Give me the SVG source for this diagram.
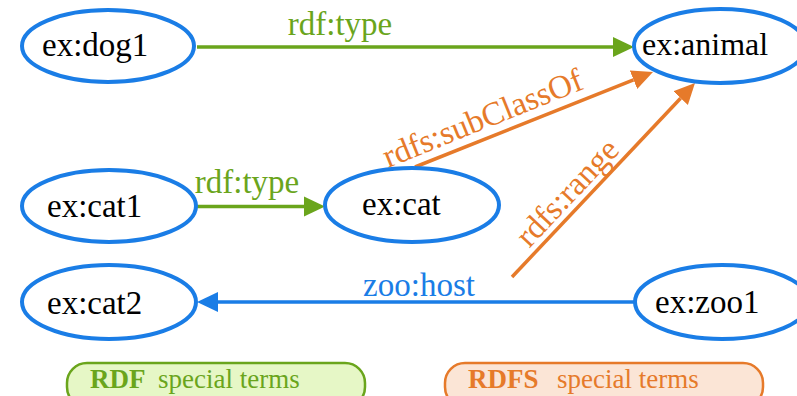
<svg xmlns="http://www.w3.org/2000/svg" width="797" height="396" viewBox="0 0 797 396">
<defs>
<marker id="ag" markerUnits="userSpaceOnUse" markerWidth="22" markerHeight="22" viewBox="0 -11 22 22" refX="0" refY="0" orient="auto"><path d="M0,-10 L21,0 L0,10 z" fill="#6aa51c"/></marker>
<marker id="ao" markerUnits="userSpaceOnUse" markerWidth="22" markerHeight="22" viewBox="0 -11 22 22" refX="0" refY="0" orient="auto"><path d="M0,-10 L21,0 L0,10 z" fill="#e67a2a"/></marker>
<marker id="ab" markerUnits="userSpaceOnUse" markerWidth="22" markerHeight="22" viewBox="0 -11 22 22" refX="0" refY="0" orient="auto"><path d="M0,-10 L21,0 L0,10 z" fill="#1a7de6"/></marker>
</defs>

<g id="connectors" stroke-width="3.5" fill="none">
<line x1="197" y1="47" x2="613" y2="47" stroke="#6aa51c" marker-end="url(#ag)"/>
<line x1="197" y1="206.5" x2="304" y2="206.5" stroke="#6aa51c" marker-end="url(#ag)"/>
<line x1="415" y1="167" x2="633.5" y2="79.8" stroke="#e67a2a" marker-end="url(#ao)"/>
<line x1="512" y1="277" x2="680.6" y2="98.2" stroke="#e67a2a" marker-end="url(#ao)"/>
<line x1="635" y1="302" x2="218" y2="302" stroke="#1a7de6" marker-end="url(#ab)"/>
</g>
<g id="labels" font-family="'Times New Roman', 'Liberation Serif', serif" font-size="33px">
<text x="340" y="35" fill="#6aa51c" text-anchor="middle">rdf:type</text>
<text x="247" y="193" fill="#6aa51c" text-anchor="middle">rdf:type</text>
<text x="388" y="168" fill="#e67a2a" transform="rotate(-22 388 168)">rdfs:subClassOf</text>
<text x="575" y="200" fill="#e67a2a" text-anchor="middle" transform="rotate(-46.7 575 200)">rdfs:range</text>
<text x="419" y="296" fill="#1a7de6" text-anchor="middle">zoo:host</text>
</g>

<g id="dog1"><ellipse cx="108" cy="46" rx="86" ry="36" fill="#fff" stroke="#1a7de6" stroke-width="4"/><text x="42" y="56" font-family="Liberation Serif" font-size="33">ex:dog1</text></g>
<g id="animal"><ellipse cx="720" cy="46" rx="86" ry="37" fill="#fff" stroke="#1a7de6" stroke-width="4"/><text x="642" y="55" font-family="Liberation Serif" font-size="32">ex:animal</text></g>
<g id="cat1"><ellipse cx="109" cy="206" rx="87" ry="36" fill="#fff" stroke="#1a7de6" stroke-width="4"/><text x="47" y="217" font-family="Liberation Serif" font-size="33">ex:cat1</text></g>
<g id="cat"><ellipse cx="412" cy="205" rx="87" ry="37" fill="#fff" stroke="#1a7de6" stroke-width="4"/><text x="362" y="215" font-family="Liberation Serif" font-size="33">ex:cat</text></g>
<g id="cat2"><ellipse cx="109" cy="302" rx="87" ry="37" fill="#fff" stroke="#1a7de6" stroke-width="4"/><text x="47" y="314" font-family="Liberation Serif" font-size="33">ex:cat2</text></g>
<g id="zoo1"><ellipse cx="722" cy="302" rx="87" ry="37" fill="#fff" stroke="#1a7de6" stroke-width="4"/><text x="655" y="313" font-family="Liberation Serif" font-size="33">ex:zoo1</text></g>

<g id="legend-rdf">
<rect x="67" y="363" width="298" height="44" rx="20" fill="#e6f7c6" stroke="#6aa51c" stroke-width="2.5"/>
<text x="90" y="388" fill="#6aa51c" font-family="Liberation Serif" font-size="27"><tspan font-weight="bold">RDF</tspan><tspan x="158">special terms</tspan></text>
</g>
<g id="legend-rdfs">
<rect x="445" y="363" width="318" height="44" rx="20" fill="#fbe5d6" stroke="#e67a2a" stroke-width="2.5"/>
<text x="468" y="388" fill="#e67a2a" font-family="Liberation Serif" font-size="27"><tspan font-weight="bold">RDFS</tspan><tspan x="557">special terms</tspan></text>
</g>
</svg>
